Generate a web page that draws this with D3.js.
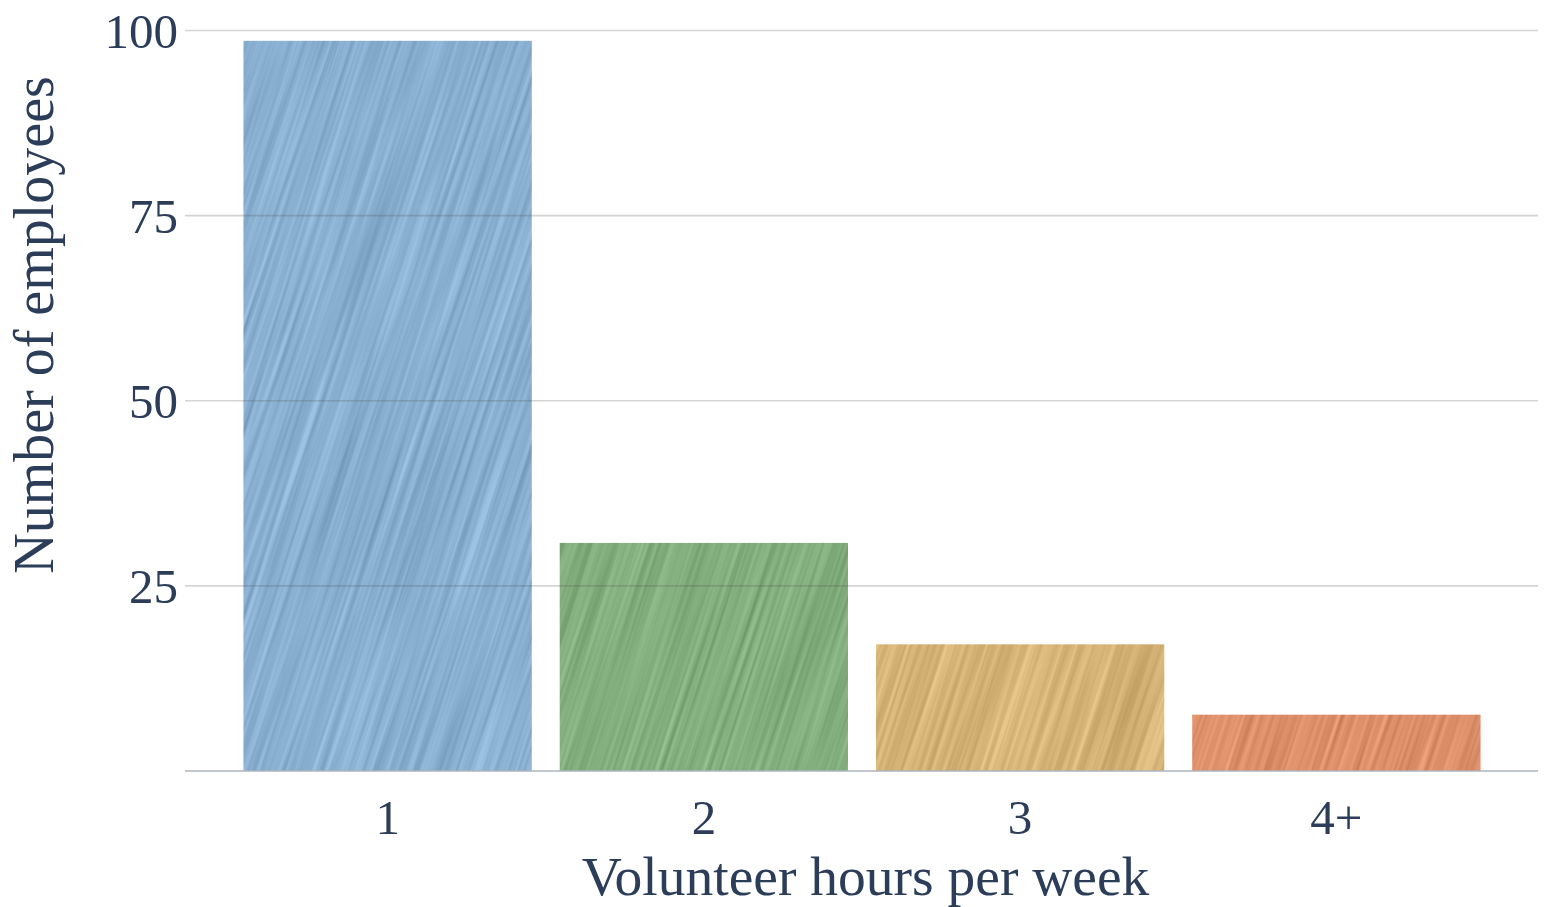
<!DOCTYPE html>
<html>
<head>
<meta charset="utf-8">
<script src="https://cdn.jsdelivr.net/npm/d3@7"></script>
<style>
  html, body { margin: 0; padding: 0; background: #ffffff; }
  svg { display: block; }
  text { font-family: "Liberation Serif", "Times New Roman", serif; fill: #2b3d59; }
</style>
</head>
<body>
<svg id="chart" width="1544" height="907"></svg>
<script>
// ---- data ----
const categories = ["1", "2", "3", "4+"];
const values = [98.6, 30.8, 17.1, 7.6];
const barColors = ["#80b3dc", "#7ab172", "#e2b769", "#ec8858"];
const yTicks = [25, 50, 75, 100];
const xTitle = "Volunteer hours per week";
const yTitle = "Number of employees";

// ---- layout ----
const W = 1544, H = 907;
const plot = { left: 185, right: 1538, top: 30.5, bottom: 771 };
const svg = d3.select("#chart");

const x = d3.scaleBand()
  .domain(categories)
  .range([243.5, 1480.5])
  .paddingInner(0.0885)
  .paddingOuter(0);

const y = d3.scaleLinear()
  .domain([0, 100])
  .range([plot.bottom, plot.top]);

const data = categories.map((c, i) => ({ c, v: values[i], color: barColors[i] }));

// ---- defs: grain texture ----
const defs = svg.append("defs");
const filt = defs.append("filter")
  .attr("id", "grain")
  .attr("x", 0).attr("y", 0).attr("width", 1).attr("height", 1)
  .attr("color-interpolation-filters", "sRGB");
filt.append("feTurbulence")
  .attr("type", "fractalNoise")
  .attr("baseFrequency", "0.004 0.22")
  .attr("numOctaves", 3)
  .attr("seed", 11)
  .attr("result", "n");
filt.append("feColorMatrix")
  .attr("type", "matrix")
  .attr("values", "0.34 0.33 0.33 0 0  0.34 0.33 0.33 0 0  0.34 0.33 0.33 0 0  0 0 0 0 1")
  .attr("result", "g");
const ct = filt.append("feComponentTransfer");
["feFuncR", "feFuncG", "feFuncB"].forEach(f =>
  ct.append(f).attr("type", "linear").attr("slope", 1.8).attr("intercept", -0.25));

const clip = defs.append("clipPath").attr("id", "barsClip");
clip.selectAll("rect").data(data).join("rect")
  .attr("x", d => x(d.c))
  .attr("y", d => y(d.v))
  .attr("width", x.bandwidth())
  .attr("height", d => y(0) - y(d.v));

// ---- bars ----
const barsG = svg.append("g").style("isolation", "isolate");
barsG.selectAll("rect.bar").data(data).join("rect")
  .attr("class", "bar")
  .attr("x", d => x(d.c))
  .attr("y", d => y(d.v))
  .attr("width", x.bandwidth())
  .attr("height", d => y(0) - y(d.v))
  .attr("fill", d => d.color);

const cx = (plot.left + plot.right) / 2, cy = (plot.top + plot.bottom) / 2;
barsG.append("g")
  .attr("clip-path", "url(#barsClip)")
  .append("rect")
  .attr("x", cx - 1100).attr("y", cy - 1100)
  .attr("width", 2200).attr("height", 2200)
  .attr("transform", `rotate(-72 ${cx} ${cy})`)
  .attr("filter", "url(#grain)")
  .style("mix-blend-mode", "soft-light")
  .attr("opacity", 0.22);

// ---- gridlines (drawn over bars, semi-transparent) ----
svg.append("g")
  .selectAll("line").data(yTicks).join("line")
  .attr("x1", plot.left).attr("x2", plot.right)
  .attr("y1", d => y(d)).attr("y2", d => y(d))
  .attr("stroke", "rgb(90,90,90)")
  .attr("stroke-opacity", 0.26)
  .attr("stroke-width", 1.6);

// baseline
svg.append("line")
  .attr("x1", plot.left).attr("x2", plot.right)
  .attr("y1", y(0)).attr("y2", y(0))
  .attr("stroke", "#aeb4bd")
  .attr("stroke-width", 1.6);

// ---- y axis labels ----
const yAxis = d3.axisLeft(y).tickValues(yTicks).tickSize(0).tickPadding(0);
const yg = svg.append("g").attr("transform", `translate(${plot.left - 7},0)`).call(yAxis);
yg.select(".domain").remove();
yg.selectAll("text")
  .attr("font-size", 49)
  .attr("font-family", "Liberation Serif, serif")
  .attr("fill", "#2b3d59")
  .attr("dy", "0.34em");

// ---- x axis labels ----
const xAxis = d3.axisBottom(x).tickSize(0).tickPadding(0);
const xg = svg.append("g").attr("transform", `translate(0,${plot.bottom})`).call(xAxis);
xg.select(".domain").remove();
xg.selectAll("text")
  .attr("font-size", 49)
  .attr("font-family", "Liberation Serif, serif")
  .attr("fill", "#2b3d59")
  .attr("dy", null)
  .attr("y", 63);

// ---- titles ----
svg.append("text")
  .attr("x", cx + 4)
  .attr("y", 895)
  .attr("text-anchor", "middle")
  .attr("font-size", 55.5)
  .text(xTitle);

svg.append("text")
  .attr("transform", `translate(53,325) rotate(-90)`)
  .attr("text-anchor", "middle")
  .attr("font-size", 56)
  .text(yTitle);
</script>
</body>
</html>
